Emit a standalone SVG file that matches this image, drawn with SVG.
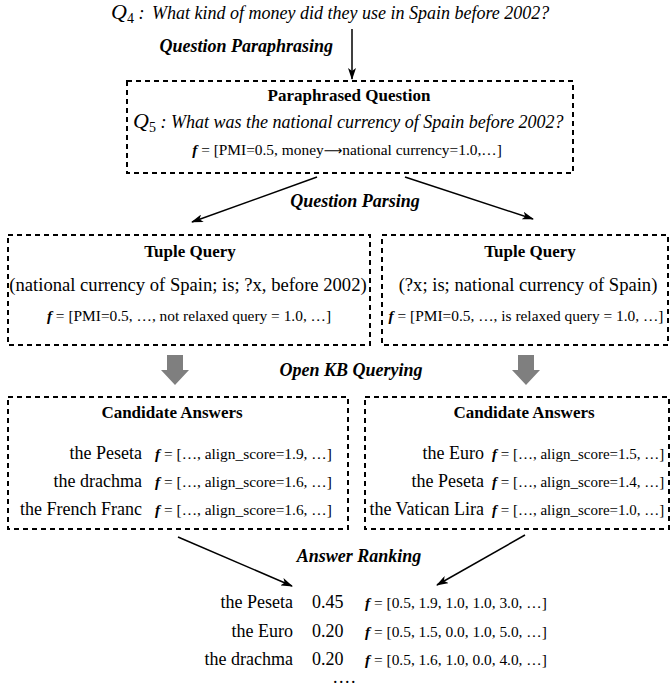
<svg xmlns="http://www.w3.org/2000/svg" width="672" height="690" viewBox="0 0 672 690">
<style>
  text { font-family: "Liberation Serif", "Times New Roman", serif; fill: #000; }
  .q { font-style: italic; font-size: 18px; }
  .qm { font-style: italic; font-size: 22px; }
  .sub { font-size: 14px; }
  .lbl { font-style: italic; font-weight: bold; font-size: 18px; }
  .title { font-weight: bold; font-size: 17px; }
  .tup { font-size: 18.6px; }
  .name { font-size: 18px; }
  .f { font-size: 15.4px; }
  .fs { font-size: 15px; }
  .fi { font-style: italic; font-weight: bold; }
  .box { fill: none; stroke: #000; stroke-width: 2; stroke-dasharray: 5 4; }
  .conn { fill: none; stroke: #000; stroke-width: 1.5; }
  .block { fill: #7f7f7f; }
</style>
<defs>
  <marker id="ah" viewBox="0 0 12 8" refX="11" refY="4" markerWidth="12" markerHeight="8" markerUnits="userSpaceOnUse" orient="auto">
    <path d="M0,0 L12,4 L0,8 L3,4 Z" fill="#000"/>
  </marker>
</defs>

<g id="q4">
  <text x="111" y="19"><tspan class="qm">Q</tspan><tspan class="sub" dy="4">4</tspan><tspan class="q" dy="-4"> :</tspan></text>
  <text class="q" x="152" y="19">What kind of money did they use in Spain before 2002?</text>
</g>

<g id="connectors">
  <line class="conn" x1="352" y1="29" x2="352" y2="79" marker-end="url(#ah)"/>
  <line class="conn" x1="317" y1="177" x2="192" y2="222" marker-end="url(#ah)"/>
  <line class="conn" x1="405" y1="177" x2="533" y2="219" marker-end="url(#ah)"/>
  <path class="block" d="M167,355 H183 V370 H189 L175,385 L161,370 H167 Z"/>
  <path class="block" d="M518,355 H534 V370 H540 L526,385 L512,370 H518 Z"/>
  <line class="conn" x1="178" y1="537" x2="292" y2="586" marker-end="url(#ah)"/>
  <line class="conn" x1="525" y1="535" x2="437" y2="585" marker-end="url(#ah)"/>
  <text class="lbl" x="333" y="52" text-anchor="end">Question Paraphrasing</text>
  <text class="lbl" x="355" y="207" text-anchor="middle">Question Parsing</text>
  <text class="lbl" x="351" y="376" text-anchor="middle">Open KB Querying</text>
  <text class="lbl" x="359" y="562" text-anchor="middle">Answer Ranking</text>
</g>

<g id="paraphrased">
  <rect class="box" x="127" y="81" width="446" height="92"/>
  <text class="title" x="349" y="101" text-anchor="middle">Paraphrased Question</text>
  <text x="133" y="128"><tspan class="qm">Q</tspan><tspan class="sub" dy="4">5</tspan><tspan class="q" dy="-4"> :</tspan></text>
  <text class="q" x="171" y="128">What was the national currency of Spain before 2002?</text>
  <text class="f" x="347" y="155" text-anchor="middle"><tspan class="fi">f</tspan> = [PMI=0.5, money<tspan font-family="DejaVu Sans, sans-serif" font-size="13">⟶</tspan>national currency=1.0,…]</text>
</g>

<g id="tuple-left">
  <rect class="box" x="8" y="235" width="362" height="110"/>
  <text class="title" x="190" y="257" text-anchor="middle">Tuple Query</text>
  <text class="tup" x="188" y="291" text-anchor="middle">(national currency of Spain; is; ?x, before 2002)</text>
  <text class="f" x="189" y="321" text-anchor="middle"><tspan class="fi">f</tspan> = [PMI=0.5, …, not relaxed query = 1.0, …]</text>
</g>

<g id="tuple-right">
  <rect class="box" x="382" y="235" width="286" height="110"/>
  <text class="title" x="530" y="257" text-anchor="middle">Tuple Query</text>
  <text class="tup" x="528" y="291" text-anchor="middle">(?x; is; national currency of Spain)</text>
  <text class="f" x="526" y="321" text-anchor="middle"><tspan class="fi">f</tspan> = [PMI=0.5, …, is relaxed query = 1.0, …]</text>
</g>

<g id="candidates-left">
  <rect class="box" x="8" y="397" width="340" height="132"/>
  <text class="title" x="172" y="418" text-anchor="middle">Candidate Answers</text>
  <text class="name" x="142" y="459" text-anchor="end">the Peseta</text>
  <text class="f" x="155" y="459"><tspan class="fi">f</tspan> = […, align_score=1.9, …]</text>
  <text class="name" x="142" y="487" text-anchor="end">the drachma</text>
  <text class="f" x="155" y="487"><tspan class="fi">f</tspan> = […, align_score=1.6, …]</text>
  <text class="name" x="142" y="515" text-anchor="end">the French Franc</text>
  <text class="f" x="155" y="515"><tspan class="fi">f</tspan> = […, align_score=1.6, …]</text>
</g>

<g id="candidates-right">
  <rect class="box" x="365" y="397" width="304" height="132"/>
  <text class="title" x="524" y="418" text-anchor="middle">Candidate Answers</text>
  <text class="name" x="484" y="459" text-anchor="end">the Euro</text>
  <text class="fs" x="492" y="459"><tspan class="fi">f</tspan> = […, align_score=1.5, …]</text>
  <text class="name" x="484" y="487" text-anchor="end">the Peseta</text>
  <text class="fs" x="492" y="487"><tspan class="fi">f</tspan> = […, align_score=1.4, …]</text>
  <text class="name" x="484" y="515" text-anchor="end">the Vatican Lira</text>
  <text class="fs" x="492" y="515"><tspan class="fi">f</tspan> = […, align_score=1.0, …]</text>
</g>

<g id="ranking">
  <text class="name" x="293" y="608" text-anchor="end">the Peseta</text>
  <text class="name" x="312" y="608">0.45</text>
  <text class="f" x="365" y="608"><tspan class="fi">f</tspan> = [0.5, 1.9, 1.0, 1.0, 3.0, …]</text>
  <text class="name" x="293" y="637" text-anchor="end">the Euro</text>
  <text class="name" x="312" y="637">0.20</text>
  <text class="f" x="365" y="637"><tspan class="fi">f</tspan> = [0.5, 1.5, 0.0, 1.0, 5.0, …]</text>
  <text class="name" x="293" y="665" text-anchor="end">the drachma</text>
  <text class="name" x="312" y="665">0.20</text>
  <text class="f" x="365" y="665"><tspan class="fi">f</tspan> = [0.5, 1.6, 1.0, 0.0, 4.0, …]</text>
  <text class="name" x="333" y="683" letter-spacing="1.5">....</text>
</g>
</svg>
